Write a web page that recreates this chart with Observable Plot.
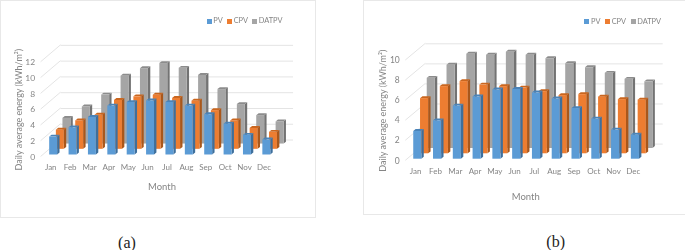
<!DOCTYPE html>
<html>
<head>
<meta charset="utf-8">
<script src="https://cdn.jsdelivr.net/npm/d3@7"></script>
<script src="https://cdn.jsdelivr.net/npm/@observablehq/plot@0.6"></script>
<style>
  html, body { margin: 0; padding: 0; background: #fff; }
  #page { position: relative; width: 685px; height: 250px; overflow: hidden; font-family: Lato, sans-serif; }
  .panel { position: absolute; top: 0; box-sizing: border-box; border: 1.5px solid #e8e8e8; }
  .panel svg { position: absolute; left: -1.5px; top: -1.5px; filter: blur(0.4px); }
  .caption { position: absolute; font: 16px "Liberation Serif", serif; color: #222; transform: translateX(-50%); line-height: 18px; }
  .key { position: absolute; font-size: 7.4px; line-height: 10px; color: #858585; white-space: nowrap; filter: blur(0.3px); }
  .swatch { position: absolute; width: 5px; height: 5px; }
</style>
</head>
<body>
<div id="page"></div>
<script>
const months = ["Jan","Feb","Mar","Apr","May","Jun","Jul","Aug","Sep","Oct","Nov","Dec"];
const seriesNames = ["PV","CPV","DATPV"];

const pvA    = [2.27,3.45,4.76,6.2,6.65,6.85,6.65,6.2,5.1,3.9,2.5,1.9];
const cpvA   = [2.43,3.6,4.33,6.2,6.65,6.85,6.45,6.1,4.9,3.6,2.65,2.15];
const datpvA = [3.25,4.7,6.2,8.6,9.55,10.2,9.6,8.7,6.9,5,3.6,2.8];

const pvB    = [2.76,3.83,5.3,6.2,6.9,6.95,6.6,6,5.05,4,2.9,2.4];
const cpvB   = [5.5,6.7,7.2,6.85,6.7,6.55,6.2,5.8,5.9,5.65,5.4,5.35];
const datpvB = [7,8.3,9.4,9.3,9.6,9.3,8.95,8.45,8.05,7.5,6.9,6.65];

const ticksA = [0,2,4,6,8,10,12];
const ticksB = [0,2,4,6,8,10];

const front = ["#5B9BD5","#ED7D31","#A5A5A5"];
const top3d = ["#4A83B8","#C9661F","#8C8C8C"];
const side  = ["#3E6F9C","#A9571B","#737373"];
const textColor = "#858585";
const gridColor = "#e4e4e4";

function chart(cfg) {
  const faces = (values, s) => (index, scales) => {
    const g = d3.create("svg:g");
    const bw = typeof scales.x.bandwidth === "function" ? scales.x.bandwidth() : scales.x.bandwidth;
    months.forEach((m, i) => {
      const x0 = scales.x(m) + cfg.offX[s], x1 = x0 + bw;
      const y0 = scales.y(0) + cfg.offY[s], yt = scales.y(values[i]) + cfg.offY[s];
      const sx = cfg.capX, sy = cfg.capY;
      g.append("polygon").attr("fill", side[s])
        .attr("points", [[x1,yt],[x1+sx,yt-sy],[x1+sx,y0-sy],[x1,y0]].join(" "));
      g.append("polygon").attr("fill", top3d[s])
        .attr("points", [[x0,yt],[x0+sx,yt-sy],[x1+sx,yt-sy],[x1,yt]].join(" "));
    });
    return g.node();
  };
  const diagonals = (index, scales) => {
    const g = d3.create("svg:g");
    cfg.ticks.forEach((t) => {
      g.append("line").attr("stroke", gridColor).attr("stroke-width", 1)
        .attr("x1", cfg.marginLeft).attr("y1", scales.y(t))
        .attr("x2", cfg.marginLeft + cfg.floorX).attr("y2", scales.y(t) + cfg.floorY);
    });
    return g.node();
  };
  const marks = [
    Plot.ruleY(cfg.ticks, {stroke: gridColor, strokeWidth: 1, dx: cfg.floorX, dy: cfg.floorY}),
    diagonals,
    Plot.axisY({ticks: cfg.ticks, tickSize: 0, tickPadding: 6, label: null, fill: textColor, fontSize: 8.5}),
    Plot.axisX({tickSize: 0, tickPadding: 7.5, label: null, fill: textColor, fontSize: 8}),
  ];
  for (const s of [2,1,0]) {
    marks.push(faces(cfg.series[s], s));
    marks.push(Plot.barY(months, {
      x: (d) => d,
      y: (d, i) => cfg.series[s][i],
      fill: front[s],
      dx: cfg.offX[s],
      dy: cfg.offY[s]
    }));
  }
  marks.push(Plot.text(["Month"], {
    frameAnchor: "bottom", lineAnchor: "middle", textAnchor: "middle",
    dx: cfg.monthDx, dy: cfg.monthDy, fill: textColor, fontSize: 9.5
  }));
  marks.push(Plot.text(["Daily average energy (kWh/m²)"], {
    frameAnchor: "left", lineAnchor: "middle", textAnchor: "middle", rotate: -90,
    dx: cfg.labelDx, fill: textColor, fontSize: 9
  }));
  return Plot.plot({
    width: cfg.width, height: cfg.height,
    marginLeft: cfg.marginLeft, marginRight: cfg.marginRight,
    marginTop: cfg.marginTop, marginBottom: cfg.marginBottom,
    style: {fontFamily: "Lato, sans-serif", background: "transparent", overflow: "visible"},
    x: {type: "band", domain: months, paddingInner: 0.59, paddingOuter: 0.295, round: false, label: null},
    y: {domain: cfg.domain, label: null},
    marks
  });
}

const page = document.getElementById("page");

function panel(left, width, height, svg) {
  const d = document.createElement("div");
  d.className = "panel";
  d.style.left = left + "px";
  d.style.width = width + "px";
  d.style.height = height + "px";
  d.appendChild(svg);
  page.appendChild(d);
}
function legend(items, y) {
  items.forEach(([sx, tx], i) => {
    const sw = document.createElement("div");
    sw.className = "swatch";
    sw.style.left = sx + "px"; sw.style.top = (y - 2.5) + "px"; sw.style.background = front[i];
    page.appendChild(sw);
    const t = document.createElement("div");
    t.className = "key"; t.textContent = seriesNames[i];
    t.style.left = tx + "px"; t.style.top = (y - 5) + "px";
    page.appendChild(t);
  });
}
function caption(text, x, y) {
  const c = document.createElement("div");
  c.className = "caption"; c.textContent = text;
  c.style.left = x + "px"; c.style.top = y + "px";
  page.appendChild(c);
}

panel(0, 316, 217.5, chart({
  series: [pvA, cpvA, datpvA], ticks: ticksA, domain: [0,12],
  width: 315, height: 217, marginLeft: 40.7, marginRight: 41, marginTop: 62, marginBottom: 60,
  floorX: 20, floorY: -17, offX: [2.9, 9.6, 16.2], offY: [-2, -7.7, -13],
  capX: 2.4, capY: 1.9, monthDx: 4.7, monthDy: 30, labelDx: -21.7
}));
panel(363, 340, 214.5, chart({
  series: [pvB, cpvB, datpvB], ticks: ticksB, domain: [0,10],
  width: 322, height: 214, marginLeft: 42.3, marginRight: 42.3, marginTop: 60, marginBottom: 53.7,
  floorX: 20, floorY: -16.7, offX: [2.1, 8.9, 15.6], offY: [-1.6, -7, -12.3],
  capX: 2.4, capY: 1.9, monthDx: 1.3, monthDy: 35.7, labelDx: -22.7
}));

legend([[207,213.3],[227,233.7],[252,258.7]], 21);
legend([[584.3,591],[605,611.7],[631,637.3]], 21.7);

caption("(a)", 127, 234);
caption("(b)", 555.7, 233);
</script>
</body>
</html>
